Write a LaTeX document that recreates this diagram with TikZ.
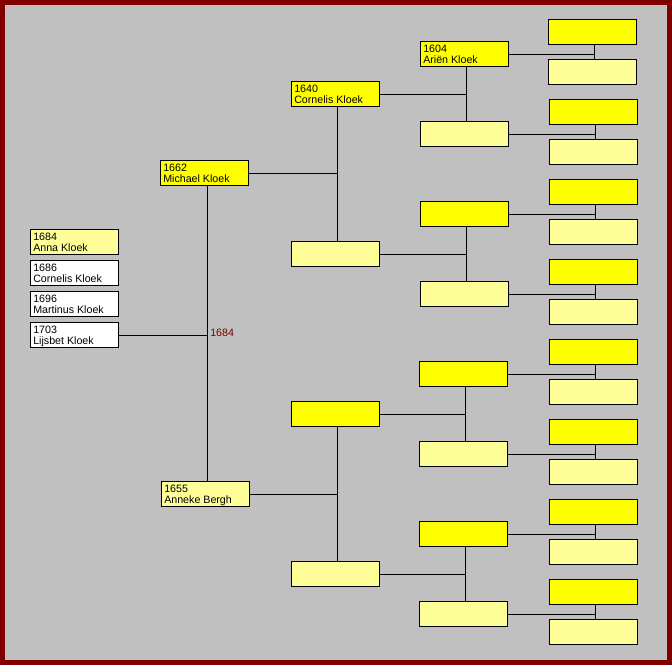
\documentclass[tikz,border=0pt]{standalone}
\usepackage{fontspec}
\setmainfont{Liberation Sans}
\definecolor{frame}{HTML}{800000}
\definecolor{bg}{HTML}{C0C0C0}
\definecolor{yel}{HTML}{FFFF00}
\definecolor{paley}{HTML}{FFFF99}
\begin{document}
\begin{tikzpicture}[x=0.75pt,y=-0.75pt,
  box/.style={draw=black, line width=0.75pt, minimum width=66pt, minimum height=18.75pt, inner sep=0pt, outer sep=0pt, anchor=north west},
  father/.style={box, fill=yel},
  mother/.style={box, fill=paley},
  child/.style={box, fill=white},
  txt/.style={inner sep=0pt, align=left, anchor=north west, font=\fontsize{8}{8.8}\selectfont},
  link/.style={draw=black, line width=0.75pt},
  yearlabel/.style={inner sep=0pt, anchor=base west, text=frame, font=\fontsize{8}{8.8}\selectfont}]
\useasboundingbox (0,0) rectangle (672,665);
\fill[frame] (0,0) rectangle (672,665);
\fill[bg] (5,5) rectangle (667,660);

% children
\node[mother] (c1) at (30.5,229.5) {};
\node[child] (c2) at (30.5,260.5) {};
\node[child] (c3) at (30.5,291.5) {};
\node[child] (c4) at (30.5,322.5) {};
\node[txt] (tc1) at (33,232.3) {1684\\Anna Kloek};
\node[txt] (tc2) at (33,263.3) {1686\\Cornelis Kloek};
\node[txt] (tc3) at (33,294.3) {1696\\Martinus Kloek};
\node[txt] (tc4) at (33,325.3) {1703\\Lijsbet Kloek};

% parents
\node[father] (f) at (160.5,160.5) {};
\node[mother] (m) at (161.5,481.5) {};
\node[txt] (tf) at (163,163.3) {1662\\Michael Kloek};
\node[txt] (tm) at (164,484.3) {1655\\Anneke Bergh};

% grandparents
\node[father] (g1) at (291.5,81.5) {};
\node[mother] (g2) at (291.5,241.5) {};
\node[father] (g3) at (291.5,401.5) {};
\node[mother] (g4) at (291.5,561.5) {};
\node[txt] (tg1) at (294,84.3) {1640\\Cornelis Kloek};

% great-grandparents
\node[father] (h1) at (420.5,41.5) {};
\node[mother] (h2) at (420.5,121.5) {};
\node[father] (h3) at (420.5,201.5) {};
\node[mother] (h4) at (420.5,281.5) {};
\node[father] (h5) at (419.5,361.5) {};
\node[mother] (h6) at (419.5,441.5) {};
\node[father] (h7) at (419.5,521.5) {};
\node[mother] (h8) at (419.5,601.5) {};
\node[txt] (th1) at (423,44.3) {1604\\Ariën Kloek};

% great-great-grandparents
\node[father] (k1) at (548.5,19.5) {};
\node[mother] (k2) at (548.5,59.5) {};
\foreach \i in {3,...,16}{
  \pgfmathtruncatemacro\yy{19+40*(\i-1)}
  \ifodd\i
    \node[father] (k\i) at (549.5,\yy.5) {};
  \else
    \node[mother] (k\i) at (549.5,\yy.5) {};
  \fi
}

% junction coordinates
\coordinate (vf) at (207.5,0);
\coordinate (vg1) at (337.5,0);
\coordinate (vg2) at (337.5,0);
\coordinate (vh1) at (466.5,0);
\coordinate (vh2) at (466.5,0);
\coordinate (vh3) at (465.5,0);
\coordinate (vh4) at (465.5,0);
\coordinate (vk1) at (594.5,0);
\foreach \i in {2,...,8}{\coordinate (vk\i) at (595.5,0);}

% connectors: children to parents
\draw[link] (f.south -| vf) -- (m.north -| vf);
\draw[link] (c4.east) -- (c4.east -| vf);
\node[yearlabel] (yr) at (210,336.7) {1684};

% parents to grandparents
\draw[link] (g1.south -| vg1) -- (g2.north -| vg1);
\draw[link] (f.east) -- (f.east -| vg1);
\draw[link] (g3.south -| vg2) -- (g4.north -| vg2);
\draw[link] (m.east) -- (m.east -| vg2);

% grandparents to great-grandparents
\draw[link] (h1.south -| vh1) -- (h2.north -| vh1);
\draw[link] (g1.east) -- (g1.east -| vh1);
\draw[link] (h3.south -| vh2) -- (h4.north -| vh2);
\draw[link] (g2.east) -- (g2.east -| vh2);
\draw[link] (h5.south -| vh3) -- (h6.north -| vh3);
\draw[link] (g3.east) -- (g3.east -| vh3);
\draw[link] (h7.south -| vh4) -- (h8.north -| vh4);
\draw[link] (g4.east) -- (g4.east -| vh4);

% great-grandparents to great-great-grandparents
\foreach \i in {1,...,8}{
  \pgfmathtruncatemacro\fa{2*\i-1}
  \pgfmathtruncatemacro\mo{2*\i}
  \draw[link] (k\fa.south -| vk\i) -- (k\mo.north -| vk\i);
  \draw[link] (h\i.east) -- (h\i.east -| vk\i);
}
\end{tikzpicture}
\end{document}
